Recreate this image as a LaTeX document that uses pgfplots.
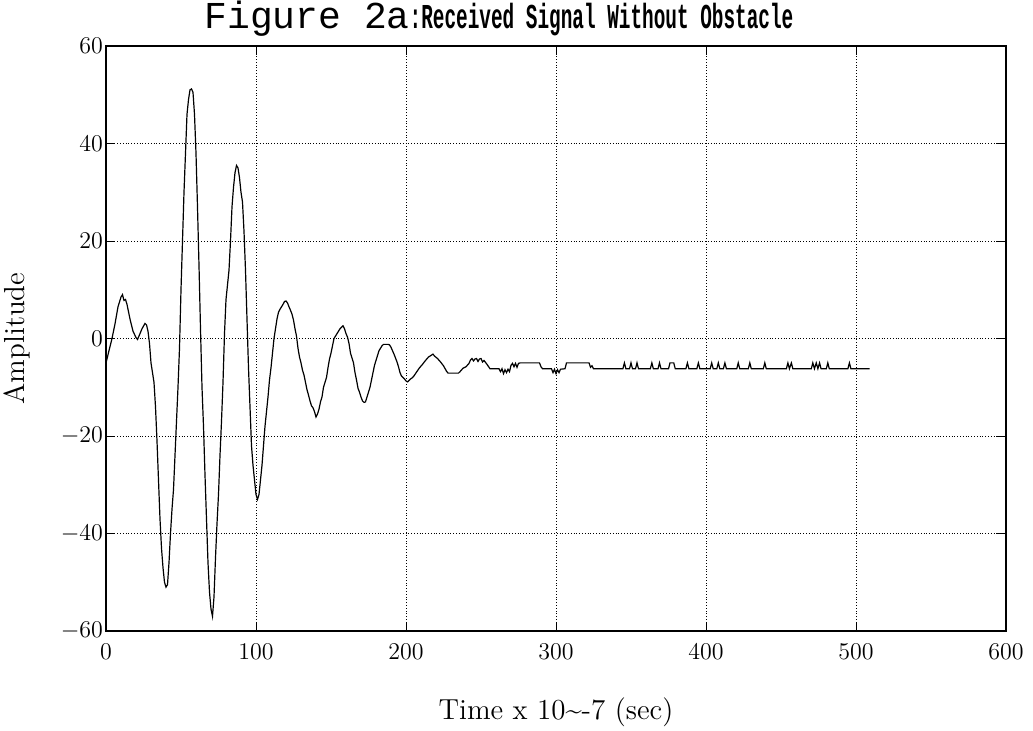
\documentclass[border=0pt]{standalone}
\usepackage{pgfplots}
\pgfplotsset{compat=1.18}
\usepackage{graphicx}
\usepackage{fontspec}
\newfontfamily\monofont{Liberation Mono}

\begin{document}
\begin{tikzpicture}
\begin{axis}[
  scale only axis,
  width=450pt, height=292.5pt,
  xmin=0, xmax=600, ymin=-60, ymax=60,
  xtick={0,100,...,600},
  ytick={-60,-40,...,60},
  grid=major,
  major grid style={black, densely dotted, line width=0.4pt},
  axis line style={black, line width=0.6pt},
  tick style={black, line width=0.5pt},
  tick align=inside,
  ticklabel style={font=\fontsize{12.5}{14}\selectfont},
  yticklabel style={xshift=2pt},
  xticklabel style={yshift=-3pt},
  xlabel={Time x 10\textasciitilde{}-7 (sec)},
  ylabel={Amplitude},
  label style={font=\fontsize{14.5}{17}\selectfont},
  xlabel style={at={(axis description cs:0.5,-0.1385)}, anchor=center},
  ylabel style={at={(axis description cs:-0.0989,0.5)}, anchor=center, rotate=0},
  clip=true,
]
\addplot[black, line width=0.6pt] coordinates {
(0,-5) (2,-2.5) (4,0) (6,3) (8,6.5) (10,8.5) (11,9) (12,7.8) (13,8) (14,7)
(16,4) (18,1.5) (20,0.2) (21,-0.2) (22,0.5) (24,2) (26,3.1) (27,2.8) (28,1.5) (29,-1)
(30,-5) (31,-7) (32,-9) (33,-14) (34,-21) (35,-29) (36,-37) (37,-43) (38,-47) (39,-50)
(40,-51) (41,-50.5) (42,-46) (43,-40) (44,-35) (45,-31) (46,-24) (47,-17) (48,-10) (49,-2)
(50,10) (51,20) (52,30) (53,38) (54,46) (55,49) (56,51) (57,51.2) (58,50.5) (59,46)
(60,38) (61,27) (62,15) (63,2) (64,-10) (65,-18) (66,-28) (67,-37) (68,-46) (69,-52)
(70,-55.5) (71,-57) (72,-53) (73,-45) (74,-38) (75,-32) (76,-24) (77,-17) (78,-9) (79,1)
(80,8) (81,11) (82,14) (83,20) (84,27) (85,31) (86,34) (87,35.5) (88,35) (89,33)
(90,30) (91,28) (92,22) (93,14) (94,4) (95,-6) (96,-14) (97,-22) (98,-26) (99,-29)
(100,-32) (101,-33) (102,-32) (103,-29) (104,-26) (105,-22) (106,-18) (107,-15) (108,-12) (109,-8.5)
(110,-6) (111,-3) (112,0) (113,2) (114,4) (115,5.4) (116,6) (117,6.5) (118,7) (119,7.6)
(120,7.7) (121,7.3) (122,6.5) (123,5.8) (124,5) (125,3.8) (126,2) (127,0.5) (128,-2) (129,-3.8)
(130,-5) (131,-6.5) (132,-7.5) (133,-9) (134,-10.5) (135,-11.6) (136,-12.8) (137,-13.8) (138,-14.2) (139,-15)
(140,-16.1) (141,-15.5) (142,-14.5) (143,-13) (144,-12) (145,-10) (146,-9) (147,-8) (148,-6) (149,-4.2)
(150,-3) (151,-1.5) (152,0) (153,0.5) (154,1) (155,1.5) (156,2) (157,2.3) (158,2.6) (159,2)
(160,1) (161,0.3) (162,-1) (163,-3) (164,-4) (165,-5) (166,-7) (167,-8.5) (168,-10.2) (169,-11)
(170,-12) (171,-12.8) (172,-13.1) (173,-13) (174,-12) (175,-11) (176,-10) (177,-8.5) (178,-7) (179,-5.5)
(180,-4.5) (181,-3.5) (182,-2.5) (183,-2) (184,-1.5) (185,-1.2) (186,-1.2) (187,-1.2) (188,-1.2) (189,-1.3)
(190,-1.8) (191,-2.5) (192,-3.2) (193,-4) (194,-4.8) (195,-5.8) (196,-7) (197,-7.7) (198,-8) (199,-8.3)
(200,-8.7) (201,-8.9) (202,-8.6) (203,-8.3) (204,-8.1) (205,-7.8) (207,-6.9) (209,-6) (211,-5.3) (213,-4.5)
(215,-3.8) (217,-3.4) (218,-3.2) (219,-3.6) (221,-4.1) (223,-4.8) (225,-5.6) (227,-6.7) (228,-7.1) (235,-7.1)
(236,-6.8) (238,-6.1) (240,-5.8) (242,-5.1) (243,-4.4) (244,-4.1) (245,-4.6) (246,-4.2) (247,-4.1) (248,-4.7)
(249,-4.2) (250,-4.1) (251,-4.8) (252,-4.5) (254,-5.3) (256,-6.2) (262,-6.2) (263,-6.8) (264,-6.2) (265,-7.2)
(266,-6.4) (267,-7) (268,-6.3) (269,-6.8) (270,-5.5) (271,-5.1) (272,-5.8) (273,-5.1) (274,-5.9) (275,-5.1)
(276,-5.0) (289,-5.0) (290,-5.8) (291,-6.2) (297,-6.2) (298,-7) (299,-6.3) (300,-7.2) (301,-6.4) (302,-7)
(303,-6.3) (306,-6.2) (307,-5.0) (322,-5.0) (323,-5.9) (324,-5.6) (325,-6.2)
(344.6,-6.2) (345.6,-5.0) (346.6,-6.2) (349,-6.2) (350,-5.0) (351,-6.2) (353,-6.2) (354,-5.0) (355,-6.2)
(362.9,-6.2) (363.9,-5.0) (364.9,-6.2) (368,-6.2) (369,-5.0) (370,-6.2)
(375,-6.2) (376,-5.0) (378.5,-5.0) (379.5,-6.2)
(386.6,-6.2) (387.6,-5.0) (388.6,-6.2) (393.9,-6.2) (394.9,-5.0) (395.9,-6.2)
(402.8,-6.2) (403.8,-5.0) (404.8,-6.2) (407.2,-6.2) (408.2,-5.0) (409.2,-6.2) (411.6,-6.2) (412.6,-5.0) (413.6,-6.2)
(420.5,-6.2) (421.5,-5.0) (422.5,-6.2) (428.2,-6.2) (429.2,-5.0) (430.2,-6.2) (438.2,-6.2) (439.2,-5.0) (440.2,-6.2)
(453.6,-6.2) (454.6,-5.0) (455.6,-6.2) (456.9,-5.0) (457.9,-6.2)
(470.2,-6.2) (471.2,-5.0) (472.3,-6.2) (473.5,-5.0) (474.6,-6.2) (475.7,-5.0) (476.7,-6.2)
(480.2,-6.2) (481.2,-5.0) (482.2,-6.2) (494.6,-6.2) (495.6,-5.0) (496.6,-6.2) (509,-6.2)
};
\end{axis}
\node[anchor=base west, inner sep=0pt] at (49pt,301.5pt)
  {\monofont\fontsize{19}{22}\selectfont Figure 2a\scalebox{0.51}[0.92]{\bfseries:Received Signal Without Obstacle}};
\pgfresetboundingbox
\path (-53pt,-49.5pt) rectangle (463.5pt,315.5pt);
\end{tikzpicture}
\end{document}
